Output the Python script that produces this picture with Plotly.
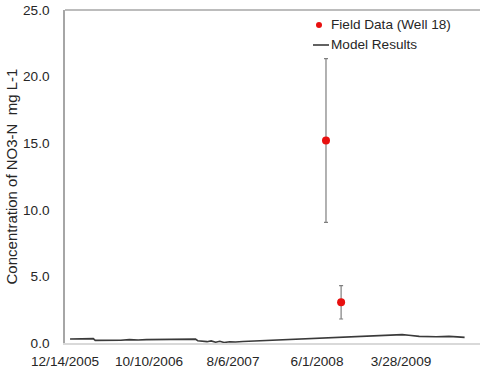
import plotly.graph_objects as go

# Simulated nitrate-N from the model
model_dates = [
    "2006-01-01", "2006-02-10", "2006-03-25", "2006-04-01", "2006-05-01",
    "2006-06-01", "2006-07-01", "2006-08-01", "2006-09-01", "2006-10-01",
    "2006-11-01", "2006-12-01", "2007-01-01", "2007-02-01", "2007-03-01",
    "2007-03-25", "2007-04-02", "2007-04-20", "2007-05-05", "2007-05-20",
    "2007-06-05", "2007-06-20", "2007-07-05", "2007-07-25", "2007-08-15",
    "2007-09-10", "2007-10-15", "2007-12-01", "2008-02-01", "2008-04-01",
    "2008-06-01", "2008-08-01", "2008-10-01", "2008-12-01", "2009-02-01",
    "2009-04-01", "2009-04-25", "2009-06-01", "2009-08-01", "2009-09-15",
    "2009-10-15", "2009-11-10",
]
model_values = [
    0.30, 0.32, 0.33, 0.20, 0.19,
    0.23, 0.21, 0.25, 0.22, 0.25,
    0.26, 0.27, 0.28, 0.28, 0.29,
    0.29, 0.17, 0.15, 0.10, 0.16,
    0.06, 0.13, 0.04, 0.09, 0.07,
    0.11, 0.14, 0.20, 0.26, 0.30,
    0.34, 0.38, 0.46, 0.53, 0.59,
    0.63, 0.58, 0.50, 0.47, 0.50,
    0.46, 0.42,
]

# Observed samples at Well 18 with their spread
field_dates = ["2008-07-03", "2008-08-26"]
field_values = [15.2, 3.05]
field_errors = [6.15, 1.25]

# Axis ticks
x_tick_dates = ["2005-12-14", "2006-10-10", "2007-08-06", "2008-06-01", "2009-03-28"]
x_tick_labels = ["12/14/2005", "10/10/2006", "8/6/2007", "6/1/2008", "3/28/2009"]
y_tick_vals = [0, 5, 10, 15, 20, 25]
y_tick_labels = ["0.0", "5.0", "10.0", "15.0", "20.0", "25.0"]

FONT = "Liberation Sans, Arial, sans-serif"
TEXT = "#262626"
RED = "#e8100f"
LINE = "#3a3a3a"

fig = go.Figure()

fig.add_trace(go.Scatter(
    x=model_dates, y=model_values, mode="lines",
    line=dict(color=LINE, width=1.6),
    name="Model Results", showlegend=False,
))

fig.add_trace(go.Scatter(
    x=field_dates, y=field_values, mode="markers",
    marker=dict(color=RED, size=8),
    error_y=dict(type="data", array=field_errors, visible=True,
                 color="#7f7f7f", thickness=1.2, width=2),
    name="Field Data (Well 18)", showlegend=False,
))

W, H = 480, 377
plot_left, plot_right = 65, 480
plot_top, plot_bottom = 10, 343

def px_to_paper_x(px):
    return (px - plot_left) / (plot_right - plot_left)

def px_to_paper_y(py):
    return (plot_bottom - py) / (plot_bottom - plot_top)

# Legend drawn in paper space
legend_items = [
    ("Field Data (Well 18)", 25),
    ("Model Results", 45),
]
for label, py in legend_items:
    fig.add_annotation(
        x=px_to_paper_x(329), y=px_to_paper_y(py), xref="paper", yref="paper",
        text=label, showarrow=False, xanchor="left", yanchor="middle",
        font=dict(family=FONT, size=13.6, color=TEXT),
    )

# legend marker for field data
fig.add_shape(
    type="circle", xref="paper", yref="paper",
    x0=px_to_paper_x(316), x1=px_to_paper_x(322),
    y0=px_to_paper_y(28), y1=px_to_paper_y(22),
    fillcolor=RED, line=dict(width=0),
)
# legend line for model results
fig.add_shape(
    type="line", xref="paper", yref="paper",
    x0=px_to_paper_x(313), x1=px_to_paper_x(329),
    y0=px_to_paper_y(45), y1=px_to_paper_y(45),
    line=dict(color=LINE, width=1.6),
)
# top border of the plot area
fig.add_shape(
    type="line", xref="paper", yref="paper",
    x0=0, x1=1, y0=1, y1=1,
    line=dict(color="#a6a6a6", width=1.5),
)

fig.update_layout(
    width=W, height=H,
    margin=dict(l=plot_left, r=W - plot_right, t=plot_top, b=H - plot_bottom),
    paper_bgcolor="white", plot_bgcolor="white",
    font=dict(family=FONT, size=13.6, color=TEXT),
    showlegend=False,
    xaxis=dict(
        type="date",
        range=["2005-12-14", "2010-01-04"],
        tickvals=x_tick_dates, ticktext=x_tick_labels,
        ticks="", showgrid=False, zeroline=False,
        showline=True, linecolor="#d9d9d9", linewidth=1.5,
        tickfont=dict(family=FONT, size=13.6, color=TEXT),
        ticklabelstandoff=5,
    ),
    yaxis=dict(
        range=[0, 25],
        tickvals=y_tick_vals, ticktext=y_tick_labels,
        ticks="", showgrid=False, zeroline=False,
        showline=True, linecolor="#a6a6a6", linewidth=1.5,
        tickfont=dict(family=FONT, size=13.6, color=TEXT),
        ticklabelstandoff=11,
        title=dict(text="Concentration of NO3-N  mg L-1",
                   font=dict(family=FONT, size=15, color=TEXT), standoff=2),
    ),
)

fig.write_html("out.html")
